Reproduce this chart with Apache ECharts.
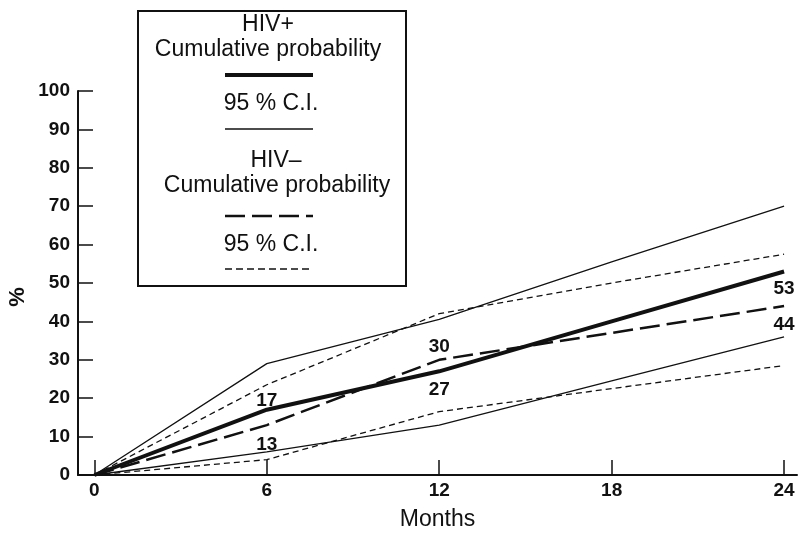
<!DOCTYPE html>
<html>
<head>
<meta charset="utf-8">
<script src="https://cdn.jsdelivr.net/npm/echarts@6/dist/echarts.min.js"></script>
<style>
html, body { margin: 0; padding: 0; background: #fff; }
#chart { width: 799px; height: 536px; }
</style>
</head>
<body>
<div id="chart"></div>
<script>
// x axis: months of follow-up
const months = [0, 6, 12, 18, 24];
const xTicks = [0, 6, 12, 18, 24];

// HIV+ cumulative probability and its 95 % C.I.
const hivPos = [0, 17, 27, 40, 53];
const hivPosUpper = [0, 29, 40.5, 55.5, 70];
const hivPosLower = [0, 6, 13, 24.5, 36];

// HIV- cumulative probability and its 95 % C.I.
const hivNeg = [0, 13, 30, 37, 44];
const hivNegUpper = [0, 23.5, 42, 50, 57.5];
const hivNegLower = [0, 4, 16.5, 22.5, 28.5];

// numbers printed next to the curves: index -> [side, distance]
const hivPosLabels = { 1: ['top', -2], 2: ['bottom', 8], 4: ['bottom', 7] };
const hivNegLabels = { 1: ['bottom', 9], 2: ['top', 3], 4: ['bottom', 8] };

const ink = '#111';
const font = 'Liberation Sans, Arial, sans-serif';

const buildData = (vals, labels) => months.map((m, i) => {
  let item = { value: [m, vals[i]] };
  if (labels && labels[i]) {
    item.label = { show: true, position: labels[i][0], distance: labels[i][1] };
  }
  return item;
});

const makeLine = (name, vals, width, dash, labels) => ({
  name: name,
  type: 'line',
  showSymbol: true,
  symbol: 'circle',
  symbolSize: 2,
  itemStyle: { color: 'rgba(0,0,0,0)', borderWidth: 0 },
  lineStyle: { color: ink, width: width, type: dash },
  label: {
    show: false,
    color: ink,
    fontFamily: font,
    fontWeight: 'bold',
    fontSize: 19,
    formatter: p => String(p.value[1])
  },
  data: buildData(vals, labels)
});

let chart = echarts.init(document.getElementById('chart'));

// legend box drawn by hand, like the original figure
const lx1 = 225, lx2 = 313, cx = 271;
const legendText = (text, x, y) => ({
  type: 'text',
  style: { text: text, x: x, y: y, fill: ink, font: '23px ' + font, align: 'center', verticalAlign: 'middle' }
});
const legendLine = (y, width, dash) => ({
  type: 'line',
  shape: { x1: lx1, y1: y, x2: lx2, y2: y },
  style: { stroke: ink, lineWidth: width, lineDash: dash }
});

let option = {
  backgroundColor: '#fff',
  animation: false,
  grid: { left: 78, right: 2, top: 91, bottom: 58, containLabel: false },
  xAxis: {
    type: 'value',
    min: -0.57,
    max: 24.45,
    name: 'Months',
    nameLocation: 'middle',
    nameGap: 33,
    nameTextStyle: { color: ink, fontFamily: font, fontSize: 23 },
    axisLine: { show: true, onZero: false, lineStyle: { color: ink, width: 2 } },
    axisTick: { show: true, inside: true, length: 15, customValues: xTicks, lineStyle: { color: ink, width: 1.5 } },
    axisLabel: { customValues: xTicks, color: ink, fontFamily: font, fontWeight: 'bold', fontSize: 19, margin: 6 },
    splitLine: { show: false }
  },
  yAxis: {
    type: 'value',
    min: 0,
    max: 100,
    interval: 10,
    axisLine: { show: true, onZero: false, lineStyle: { color: ink, width: 2 } },
    axisTick: { show: true, inside: true, length: 15, lineStyle: { color: ink, width: 1.5 } },
    axisLabel: { color: ink, fontFamily: font, fontWeight: 'bold', fontSize: 19, margin: 8 },
    splitLine: { show: false }
  },
  graphic: [
    {
      type: 'text',
      rotation: Math.PI / 2,
      x: 18, y: 297,
      style: { text: '%', fill: ink, font: 'bold 22px ' + font, align: 'center', verticalAlign: 'middle' }
    },
    {
      type: 'rect',
      shape: { x: 138, y: 11, width: 268, height: 275 },
      style: { fill: '#fff', stroke: ink, lineWidth: 2 }
    },
    legendText('HIV+', 268, 25),
    legendText('Cumulative probability', 268, 50),
    legendLine(75, 4, null),
    legendText('95 % C.I.', cx, 104),
    legendLine(129, 1.3, null),
    legendText('HIV\u2013', 276, 161),
    legendText('Cumulative probability', 277, 186),
    legendLine(216, 2.5, [20, 7]),
    legendText('95 % C.I.', cx, 245),
    legendLine(269, 1.3, [7, 4])
  ],
  series: [
    makeLine('HIV+ upper', hivPosUpper, 1.3, 'solid'),
    makeLine('HIV+ lower', hivPosLower, 1.3, 'solid'),
    makeLine('HIV- upper', hivNegUpper, 1.3, [6, 4]),
    makeLine('HIV- lower', hivNegLower, 1.3, [6, 4]),
    makeLine('HIV-', hivNeg, 2.5, [20, 7], hivNegLabels),
    makeLine('HIV+', hivPos, 4, 'solid', hivPosLabels)
  ]
};

chart.setOption(option);
window.addEventListener('resize', () => chart && chart.resize());
</script>
</body>
</html>
